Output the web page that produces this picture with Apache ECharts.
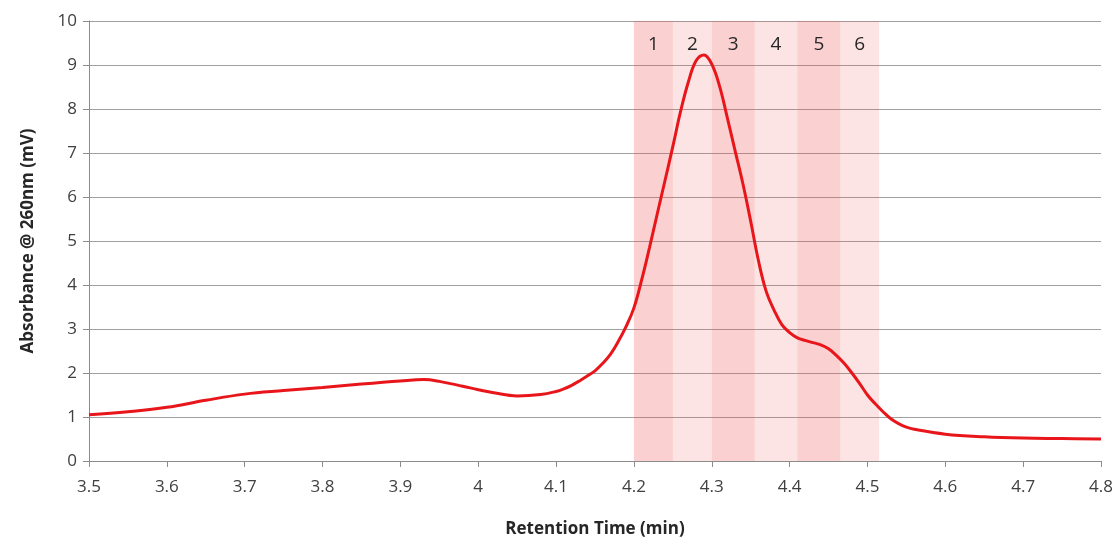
<!DOCTYPE html>
<html>
<head>
<meta charset="utf-8">
<style>
  html, body { margin: 0; padding: 0; background: #ffffff; }
  #chart { width: 1112px; height: 540px; }
</style>
<script src="https://cdn.jsdelivr.net/npm/echarts@6/dist/echarts.min.js"></script>
</head>
<body>
<div id="chart"></div>
<script>
// Chromatogram trace: retention time (min) and absorbance (mV)
const retentionTime = [
  3.50, 3.55, 3.60, 3.65, 3.70, 3.75, 3.80, 3.85, 3.90, 3.93, 3.95, 3.98,
  4.00, 4.02, 4.05, 4.08,
  4.10, 4.11, 4.12, 4.13, 4.14, 4.15, 4.16, 4.17, 4.18, 4.19,
  4.20, 4.21, 4.22, 4.23, 4.24, 4.25, 4.26, 4.27, 4.28, 4.29,
  4.30, 4.31, 4.32, 4.33, 4.34, 4.35, 4.36, 4.37, 4.38, 4.39,
  4.40, 4.41, 4.42, 4.43, 4.44, 4.45, 4.46, 4.47, 4.48, 4.49,
  4.50, 4.51, 4.52, 4.53, 4.54, 4.55, 4.56,
  4.60, 4.65, 4.70, 4.75, 4.80
];
const absorbance = [
  1.05, 1.12, 1.22, 1.38, 1.52, 1.60, 1.67, 1.75, 1.82, 1.85, 1.81, 1.70,
  1.62, 1.55, 1.48, 1.51,
  1.58, 1.64, 1.72, 1.82, 1.93, 2.05, 2.22, 2.43, 2.72, 3.06,
  3.48, 4.12, 4.85, 5.62, 6.38, 7.15, 7.95, 8.62, 9.10, 9.23,
  9.02, 8.52, 7.80, 7.05, 6.30, 5.45, 4.55, 3.85, 3.43, 3.10,
  2.92, 2.80, 2.74, 2.69, 2.64, 2.55, 2.40, 2.22, 2.00, 1.76,
  1.50, 1.30, 1.12, 0.96, 0.85, 0.77, 0.72,
  0.61, 0.55, 0.52, 0.51, 0.50
];

// Collected fractions: boundaries on the time axis and their labels
const fractionEdges = [4.20, 4.25, 4.30, 4.355, 4.41, 4.465, 4.515];
const fractionLabels = ['1', '2', '3', '4', '5', '6'];

const FONT = '"Open Sans", "Noto Sans", sans-serif';
const fractionFill = ['rgba(240,80,80,0.27)', 'rgba(240,80,80,0.155)'];

const fractionAreas = fractionLabels.map((name, i) => [
  {
    name: name,
    xAxis: fractionEdges[i],
    itemStyle: { color: fractionFill[i % 2] }
  },
  { xAxis: fractionEdges[i + 1] }
]);

const chart = echarts.init(document.getElementById('chart'), null, { renderer: 'canvas' });

chart.setOption({
  animation: false,
  backgroundColor: '#ffffff',
  grid: {
    left: 89, right: 11, top: 21, bottom: 79,
    containLabel: false,
    outerBoundsMode: 'none'
  },
  xAxis: {
    type: 'value',
    min: 3.5,
    max: 4.8,
    interval: 0.1,
    name: 'Retention Time (min)',
    nameLocation: 'middle',
    nameGap: 60,
    nameTextStyle: { fontFamily: FONT, fontWeight: 'bold', fontSize: 17, color: '#262626' },
    axisLine: { show: true, lineStyle: { color: '#8c8c8c', width: 1 } },
    axisTick: { show: true, length: 6, lineStyle: { color: '#8c8c8c' } },
    axisLabel: {
      fontFamily: FONT, fontSize: 17, color: '#404040', margin: 18,
      formatter: v => String(Math.round(v * 10) / 10)
    },
    splitLine: { show: false }
  },
  yAxis: {
    type: 'value',
    min: 0,
    max: 10,
    interval: 1,
    name: 'Absorbance @ 260nm (mV)',
    nameLocation: 'middle',
    nameGap: 52,
    nameRotate: 90,
    nameTextStyle: { fontFamily: FONT, fontWeight: 'bold', fontSize: 17, color: '#262626' },
    axisLine: { show: true, lineStyle: { color: '#8c8c8c', width: 1 } },
    axisTick: { show: true, length: 6, lineStyle: { color: '#8c8c8c' } },
    axisLabel: { fontFamily: FONT, fontSize: 17, color: '#404040', margin: 12 },
    splitLine: { show: true, lineStyle: { color: '#a0a0a0', width: 1 } }
  },
  series: [
    {
      type: 'line',
      data: retentionTime.map((t, i) => [t, absorbance[i]]),
      smooth: 0.4,
      showSymbol: false,
      symbol: 'none',
      lineStyle: { color: '#e8161b', width: 3 },
      z: 3,
      markArea: {
        silent: true,
        label: {
          show: true,
          position: 'insideTop',
          distance: 14,
          fontFamily: FONT,
          fontSize: 19,
          color: '#262626'
        },
        data: fractionAreas
      }
    }
  ]
});
</script>
</body>
</html>
